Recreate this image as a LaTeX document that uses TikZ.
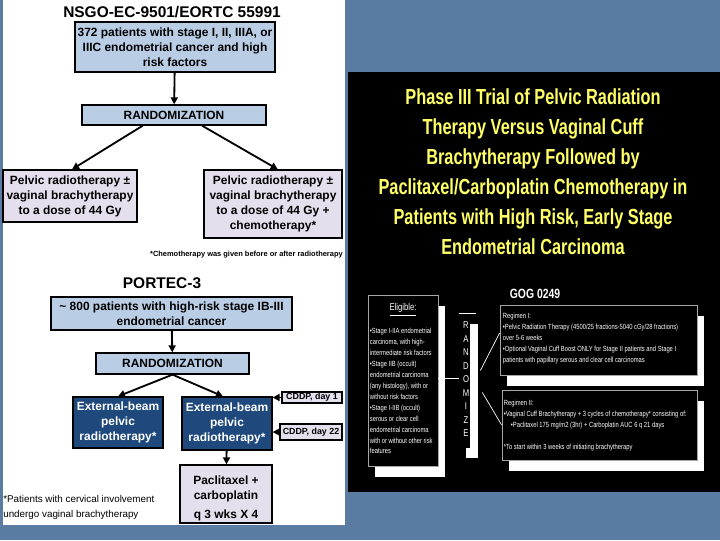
\documentclass[tikz,border=0pt]{standalone}
\usepackage{fontspec}
\setmainfont{Liberation Sans}
\newfontfamily\narrowfont[FakeStretch=0.78]{Liberation Sans}
\newfontfamily\headfont[FakeStretch=0.75]{Liberation Sans}
\usetikzlibrary{arrows.meta, calc, shadows}
\definecolor{slideblue}{HTML}{5B7CA2}
\definecolor{boxblue}{HTML}{B9CDE5}
\definecolor{boxlilac}{HTML}{E4DFEC}
\definecolor{armblue}{HTML}{1F497D}
\definecolor{titleyellow}{HTML}{FFFF66}
\tikzset{
  trialtitle/.style={inner sep=0pt, font=\bfseries\fontsize{11}{13}\selectfont},
  flowbox/.style={
    rectangle, draw=black, line width=0.9pt, fill=#1, align=center,
    inner sep=0pt, font=\bfseries\fontsize{8.5}{10.6}\selectfont
  },
  armbox/.style={flowbox=armblue, text=white},
  cddpbox/.style={flowbox=boxlilac, font=\bfseries\fontsize{6.3}{7}\selectfont},
  note/.style={inner sep=0pt, align=left, font=\fontsize{7}{10.6}\selectfont},
  arr/.style={-{Triangle[length=5pt,width=5pt]}, line width=1.3pt},
  darkbox/.style={
    rectangle, draw=gray!70, line width=0.5pt, fill=black, inner sep=0pt,
    drop shadow={shadow xshift=5pt, shadow yshift=-7.5pt, fill=white, opacity=1}
  },
  smalltext/.style={inner sep=0pt, text=white, align=left,
    font=\narrowfont\fontsize{5.3}{7.8}\selectfont},
  thinline/.style={white, line width=0.5pt}
}
\begin{document}
\begin{tikzpicture}[x=0.025cm, y=-0.025cm]
% slide background
\fill[slideblue] (0,0) rectangle (720,540);
\fill[white] (3,0) rectangle (345,525);
\fill[black] (348,72) rectangle (720,492);

% NSGO-EC-9501/EORTC 55991
\node[trialtitle] (nsgotitle) at (172,12) {NSGO-EC-9501/EORTC 55991};
\node[flowbox=boxblue, minimum width=5cm, minimum height=1.25cm] (nsgo)
  at (175,47) {372 patients with stage I, II, IIIA, or\\IIIC endometrial cancer and high\\risk factors};
\node[flowbox=boxblue, minimum width=4.6cm, minimum height=0.5cm] (randA)
  at (174,115) {RANDOMIZATION};
\node[flowbox=boxlilac, minimum width=3.35cm, minimum height=1.3cm] (armA)
  at (70,196) {Pelvic radiotherapy ±\\vaginal brachytherapy\\to a dose of 44 Gy};
\node[flowbox=boxlilac, minimum width=3.45cm, minimum height=1.7cm] (armB)
  at (273,204) {Pelvic radiotherapy ±\\vaginal brachytherapy\\to a dose of 44 Gy +\\chemotherapy*};
\node[inner sep=0pt, anchor=east, font=\bfseries\fontsize{5.3}{6}\selectfont] (chemonote)
  at (343,255) {*Chemotherapy was given before or after radiotherapy};
\draw[arr] (nsgo) -- (randA);
\draw[arr] ([xshift=-0.78cm]randA.south) -- ([xshift=0.05cm]armA.north);
\draw[arr] ([xshift=0.7cm]randA.south) -- ([xshift=0.12cm]armB.north);

% PORTEC-3
\node[trialtitle] (portectitle) at (162,283) {PORTEC-3};
\node[flowbox=boxblue, minimum width=6.025cm, minimum height=0.825cm] (portec)
  at (171.5,313.5) {\textasciitilde{} 800 patients with high-risk stage IB-III\\endometrial cancer};
\node[flowbox=boxblue, minimum width=3.825cm, minimum height=0.525cm] (randB)
  at (172.5,363.5) {RANDOMIZATION};
\node[armbox, minimum width=2.25cm, minimum height=1.275cm] (ebrtA)
  at (118,422.5) {External-beam\\pelvic\\radiotherapy*};
\node[armbox, minimum width=2.25cm, minimum height=1.325cm] (ebrtB)
  at (227,423.5) {External-beam\\pelvic\\radiotherapy*};
\node[cddpbox, minimum width=1.5cm, minimum height=0.275cm] (cddpA)
  at (312,397.5) {CDDP, day 1};
\node[cddpbox, minimum width=1.55cm, minimum height=0.4cm] (cddpB)
  at (311,432) {CDDP, day 22};
\node[flowbox=boxlilac, minimum width=2.3cm, minimum height=1.45cm] (pacli)
  at (226,494) {\rule{0pt}{12pt}Paclitaxel +\\carboplatin\\[3pt]q 3 wks X 4};
\node[note, anchor=north west] (cervnote)
  at (3,495) {*Patients with cervical involvement\\undergo vaginal brachytherapy};
\draw[arr] (portec) -- (randB);
\draw[arr] (randB.south) -- (ebrtA.north);
\draw[arr] (randB.south) -- ([xshift=-0.1cm]ebrtB.north);
\draw[arr] (cddpA.west) -- (cddpA.west -| ebrtB.east);
\draw[arr] (cddpB.west) -- (cddpB.west -| ebrtB.east);
\draw[arr] (ebrtB) -- (pacli);

% GOG 0249
\node[inner sep=0pt, text=titleyellow, align=center,
  font=\headfont\bfseries\fontsize{15.5}{21.3}\selectfont] (gogtitle)
  at (533,172) {Phase III Trial of Pelvic Radiation\\Therapy Versus Vaginal Cuff\\Brachytherapy Followed by\\Paclitaxel/Carboplatin Chemotherapy in\\Patients with High Risk, Early Stage\\Endometrial Carcinoma};
\node[inner sep=0pt, text=white, font=\narrowfont\bfseries\fontsize{9.5}{11}\selectfont] (gog)
  at (535,294) {GOG 0249};
\node[darkbox, minimum width=1.75cm, minimum height=4.275cm] (elig) at (403,380.5) {};
\node[smalltext, font=\narrowfont\fontsize{7}{8}\selectfont] (eligtitle)
  at ($(elig.north)+(0,15)$) {\underline{Eligible:}};
\node[smalltext, anchor=north west] (eligtext) at ($(elig.north west)+(2,33)$)
  {•Stage I-IIA endometrial\\carcinoma, with high-\\intermediate risk factors\\•Stage IIB (occult)\\endometrial carcinoma\\(any histology), with or\\without risk factors\\•Stage I-IIB (occult)\\serous or clear cell\\endometrial carcinoma\\with or without other risk\\features};
\node[darkbox, draw=none, minimum width=0.275cm, minimum height=3.35cm,
  drop shadow={shadow xshift=6pt, shadow yshift=-7.5pt, fill=white, opacity=1}] (rz)
  at (464.5,380.5) {};
\draw[thinline] (rz.north west) -- ([xshift=4pt]rz.north east);
\node[smalltext, align=center, font=\narrowfont\fontsize{7}{9.6}\selectfont] (rztext)
  at (466,379.5) {R\\A\\N\\D\\O\\M\\I\\Z\\E};
\node[darkbox, minimum width=4.925cm, minimum height=1.75cm] (regA) at (598.5,340) {};
\node[smalltext, anchor=north west] (regAtext) at ($(regA.north west)+(3,8)$)
  {Regimen I:\\•Pelvic Radiation Therapy (4500/25 fractions-5040 cGy/28 fractions)\\over 5-6 weeks\\•Optional Vaginal Cuff Boost ONLY for Stage II patients and Stage I\\patients with papillary serous and clear cell carcinomas};
\node[darkbox, minimum width=4.875cm, minimum height=1.75cm] (regB) at (599.5,425) {};
\node[smalltext, anchor=north west] (regBtext) at ($(regB.north west)+(2,10)$)
  {Regimen II:\\•Vaginal Cuff Brachytherapy + 3 cycles of chemotherapy* consisting of:\\\hspace{5pt}•Paclitaxel 175 mg/m2 (3hr) + Carboplatin AUC 6 q 21 days\\[7.8pt]*To start within 3 weeks of initiating brachytherapy};
\draw[thinline] (elig.east |- 0,378) -- (rz.west |- 0,378);
\draw[thinline] ($(rz.east)+(10,-10)$) -- ($(regA.west)+(0,-7)$);
\draw[thinline] ($(rz.east)+(12,12)$) -- (regB.west);
\end{tikzpicture}
\end{document}
